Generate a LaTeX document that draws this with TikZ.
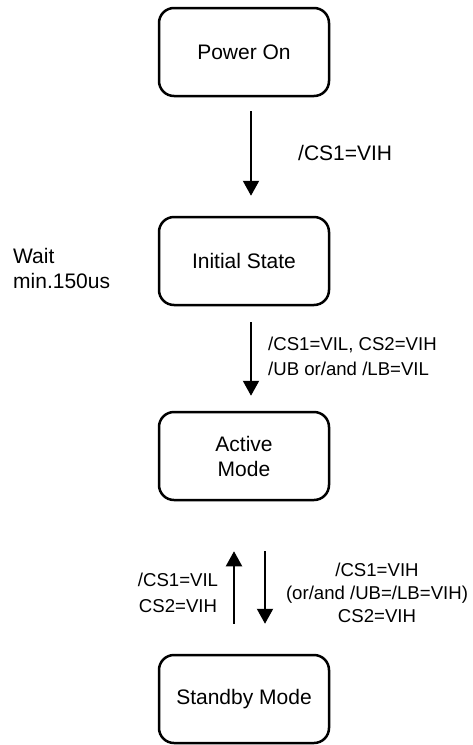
\documentclass[tikz,border=0pt]{standalone}
\usepackage{fontspec}
\setmainfont{Liberation Sans}
\usetikzlibrary{arrows.meta}

\tikzset{
  statebox/.style={draw, line width=2.5pt, rounded corners=15pt,
    minimum width=170pt, minimum height=88pt, inner sep=0pt, align=center,
    font=\fontsize{21}{25}\selectfont},
  flow/.style={line width=2pt, -{Triangle[width=16pt,length=15pt]}},
  biglabel/.style={inner sep=0pt, font=\fontsize{21}{25}\selectfont},
  cond/.style={inner sep=0pt, font=\fontsize{18.6}{24}\selectfont},
}

\begin{document}
\begin{tikzpicture}[x=1pt, y=-1pt]
  \useasboundingbox (0,0) rectangle (472,745);

  % states
  \node[statebox] (pon)  at (244,52)  {Power On};
  \node[statebox] (init) at (244,261) {Initial State};
  \node[statebox] (act)  at (244,456) {Active\\Mode};
  \node[statebox] (stby) at (244,699) {Standby Mode};

  % transitions
  \draw[flow, shorten <=14pt, shorten >=20pt]
    ([xshift=7pt]pon.south) -- ([xshift=7pt]init.north);
  \draw[flow, shorten <=16pt, shorten >=15pt]
    ([xshift=7pt]init.south) -- ([xshift=7pt]act.north);
  \draw[flow, shorten <=30pt, shorten >=50pt]
    ([xshift=-10pt]stby.north) -- ([xshift=-10pt]act.south);
  \draw[flow, shorten <=50pt, shorten >=30pt]
    ([xshift=21pt]act.south) -- ([xshift=21pt]stby.north);

  % conditions
  \node[biglabel, anchor=west] (c1) at (298,153) {/CS1=VIH};
  \node[biglabel, anchor=west, align=left] (wait) at (13,268) {Wait\\min.150us};
  \node[cond, anchor=west, align=left, font=\fontsize{18.6}{25}\selectfont] (c2) at (268,356)
    {/CS1=VIL, CS2=VIH\\/UB or/and /LB=VIL};
  \node[cond, align=center, font=\fontsize{18.6}{26}\selectfont] (c3) at (178,593)
    {/CS1=VIL\\CS2=VIH};
  \node[cond, align=center, font=\fontsize{18.6}{23}\selectfont] (c4) at (377,593)
    {/CS1=VIH\\(or/and /UB=/LB=VIH)\\CS2=VIH};
\end{tikzpicture}
\end{document}
